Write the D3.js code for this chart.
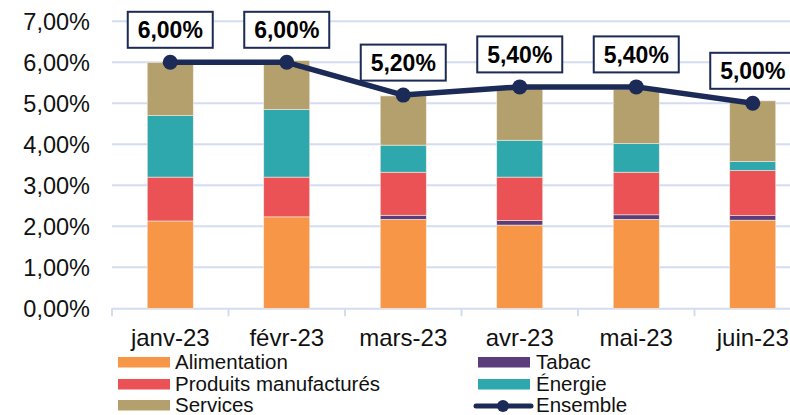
<!DOCTYPE html>
<html><head><meta charset="utf-8">
<script src="https://cdn.jsdelivr.net/npm/d3@7"></script>
<style>html,body{margin:0;padding:0;background:#fff;overflow:hidden}svg{display:block;font-family:"Liberation Sans",Arial,sans-serif}</style>
</head><body><svg id="c" width="790" height="415"></svg>
<script>
const categories = ["janv-23","févr-23","mars-23","avr-23","mai-23","juin-23"];
const alimentation = [2.13, 2.23, 2.17, 2.03, 2.17, 2.15];
const tabac        = [0.00, 0.00, 0.10, 0.11, 0.11, 0.11];
const manufactures = [1.07, 0.97, 1.05, 1.06, 1.04, 1.10];
const energie      = [1.50, 1.65, 0.66, 0.90, 0.70, 0.22];
const services     = [1.30, 1.19, 1.20, 1.27, 1.32, 1.48];
const ensemble     = [6.00, 6.00, 5.20, 5.40, 5.40, 5.00];
const yTicks = [0,1,2,3,4,5,6,7];
const seriesNames = ["Alimentation","Tabac","Produits manufacturés","Énergie","Services"];
const lineName = "Ensemble";

const colors = {"Alimentation":"#F79646","Tabac":"#5A3D7A","Produits manufacturés":"#EA5256","Énergie":"#2EA7AD","Services":"#B3A06C"};
const navy = "#1B2A56";
const grid = "#D3DCF0";

const svg = d3.select("#c");
const x = d3.scaleBand().domain(categories).range([112, 811]).padding(0);
const y = d3.scaleLinear().domain([0,7]).range([308.3, 21.3]);
const bw = x.bandwidth(), barW = bw*0.395;
const fmt = v => d3.format(".2f")(v).replace(".", ",") + "%";

// gridlines
svg.append("g").selectAll("line").data(yTicks.slice(1)).join("line")
  .attr("x1",112).attr("x2",790).attr("y1",d=>y(d)).attr("y2",d=>y(d))
  .attr("stroke",grid).attr("stroke-width",2);
// baseline + ticks
svg.append("line").attr("x1",112).attr("x2",790).attr("y1",y(0)+0.5).attr("y2",y(0)+0.5).attr("stroke",grid).attr("stroke-width",2);
svg.append("g").selectAll("line").data(categories).join("line")
  .attr("x1",d=>x(d)).attr("x2",d=>x(d)).attr("y1",y(0)).attr("y2",y(0)+8)
  .attr("stroke",grid).attr("stroke-width",2);

// y labels
svg.append("g").selectAll("text").data(yTicks).join("text")
  .attr("x",90).attr("y",d=>y(d)).attr("dy","0.35em").attr("text-anchor","end")
  .attr("font-size",23.5).attr("fill","#111").text(d=>fmt(d));

// stacked bars
const rows = categories.map((c,i)=>({cat:c,"Alimentation":alimentation[i],"Tabac":tabac[i],"Produits manufacturés":manufactures[i],"Énergie":energie[i],"Services":services[i]}));
const stack = d3.stack().keys(seriesNames)(rows);
svg.append("g").selectAll("g").data(stack).join("g").attr("fill",d=>colors[d.key])
  .selectAll("rect").data(d=>d).join("rect")
  .attr("x",d=>x(d.data.cat)+(bw-barW)/2).attr("width",barW)
  .attr("y",d=>y(d[1])).attr("height",d=>Math.max(0,y(d[0])-y(d[1])))
  .attr("stroke","#f3ece2").attr("stroke-width",0.6);

// line
const cx = c => x(c)+bw/2;
svg.append("path").datum(ensemble).attr("fill","none").attr("stroke",navy).attr("stroke-width",5.5)
  .attr("stroke-linejoin","round")
  .attr("d",d3.line().x((d,i)=>cx(categories[i])).y(d=>y(d)));
svg.append("g").selectAll("circle").data(ensemble).join("circle")
  .attr("cx",(d,i)=>cx(categories[i])).attr("cy",d=>y(d)).attr("r",7.5).attr("fill",navy);

// data labels
const lab = svg.append("g").selectAll("g").data(ensemble).join("g")
  .attr("transform",(d,i)=>`translate(${cx(categories[i])},${y(d)-32.5})`);
lab.append("rect").attr("x",-42.5).attr("y",-18).attr("width",85).attr("height",36)
  .attr("fill","#fff").attr("stroke",navy).attr("stroke-width",2);
lab.append("text").attr("text-anchor","middle").attr("dy","0.36em").attr("font-size",23)
  .attr("font-weight","bold").attr("fill","#000").text(d=>fmt(d));

// x labels
svg.append("g").selectAll("text").data(categories).join("text")
  .attr("x",d=>cx(d)).attr("y",345.5).attr("text-anchor","middle")
  .attr("font-size",24).attr("fill","#111").text(d=>d);

// legend
const legendItems = [
  {name:"Alimentation",col:0,row:0},{name:"Tabac",col:1,row:0},
  {name:"Produits manufacturés",col:0,row:1},{name:"Énergie",col:1,row:1},
  {name:"Services",col:0,row:2},{name:lineName,col:1,row:2,line:true}];
const lx = [118, 478], tx = [175, 536], base = [369, 391, 412];
const lg = svg.append("g").selectAll("g").data(legendItems).join("g");
lg.each(function(d){
  const g = d3.select(this);
  if(d.line){
    g.append("line").attr("x1",lx[d.col]-2).attr("x2",lx[d.col]+53).attr("y1",base[d.row]-6).attr("y2",base[d.row]-6)
      .attr("stroke",navy).attr("stroke-width",5).attr("stroke-linecap","round");
    g.append("circle").attr("cx",lx[d.col]+25).attr("cy",base[d.row]-6).attr("r",6).attr("fill",navy);
  } else {
    g.append("rect").attr("x",lx[d.col]).attr("y",base[d.row]-12).attr("width",52).attr("height",10.5).attr("fill",colors[d.name]);
  }
  g.append("text").attr("x",tx[d.col]).attr("y",base[d.row]).attr("font-size",20.5).attr("fill","#111").text(d.name);
});
</script></body></html>
